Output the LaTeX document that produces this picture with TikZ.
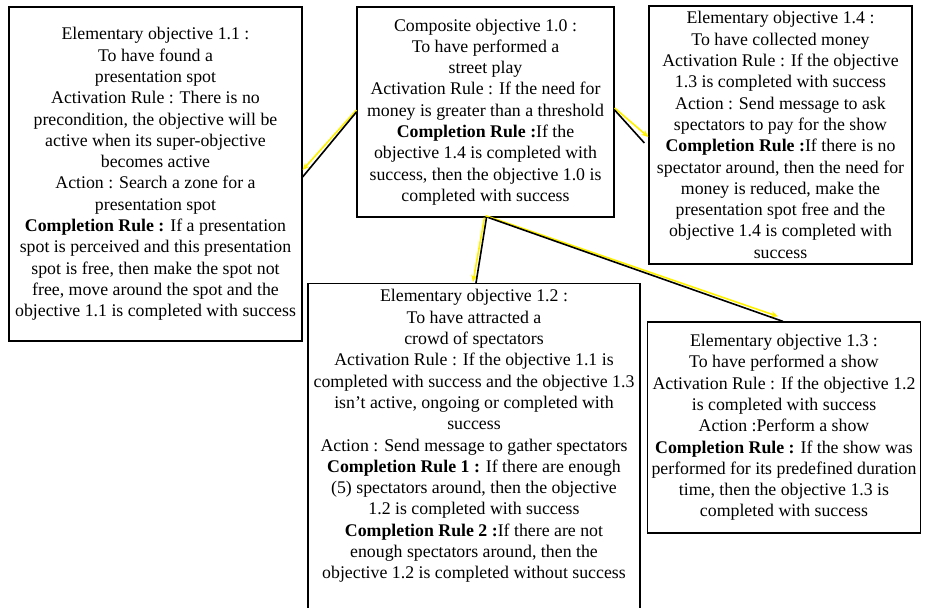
\documentclass[tikz,border=0pt]{standalone}
\usepackage{fontspec}
\setmainfont{Liberation Serif}
\usetikzlibrary{arrows.meta}

\begin{document}
\begin{tikzpicture}[x=1pt, y=-1pt,
  objbox/.style = {draw, line width=1.2pt, align=center, inner sep=4pt,
    font=\fontsize{17.8}{21.3}\selectfont},
  glow/.style = {draw=yellow, line width=1.6pt, -{Stealth[length=7pt,width=6pt]}},
  link/.style = {draw=black, line width=1.6pt}]
\clip (0,0) rectangle (925,607);
\useasboundingbox (0,0) rectangle (925,607);

\node[objbox, minimum width=293pt, minimum height=334pt] (o11) at (155.5,174) {Elementary objective 1.1 :\\ To have found a\\ presentation spot\\ Activation Rule : There is no\\ precondition, the objective will be\\ active when its super-objective\\ becomes active\\ Action : Search a zone for a\\ presentation spot\\ \textbf{Completion Rule :} If a presentation\\ spot is perceived and this presentation\\ spot is free, then make the spot not\\ free, move around the spot and the\\ objective 1.1 is completed with success};
\node[objbox, minimum width=257pt, minimum height=210pt] (o10) at (485.5,112) {Composite objective 1.0 :\\ To have performed a\\ street play\\ Activation Rule : If the need for\\ money is greater than a threshold\\ \textbf{Completion Rule :}If the\\ objective 1.4 is completed with\\ success, then the objective 1.0 is\\ completed with success};
\node[objbox, minimum width=263pt, minimum height=258pt] (o14) at (780.5,135) {Elementary objective 1.4 :\\ To have collected money\\ Activation Rule : If the objective\\ 1.3 is completed with success\\ Action : Send message to ask\\ spectators to pay for the show\\ \textbf{Completion Rule :}If there is no\\ spectator around, then the need for\\ money is reduced, make the\\ presentation spot free and the\\ objective 1.4 is completed with\\ success};
\node[objbox, minimum width=332pt, inner ysep=6pt, anchor=north] (o12) at (474,283) {Elementary objective 1.2 :\\ To have attracted a\\ crowd of spectators\\ Activation Rule : If the objective 1.1 is\\ completed with success and the objective 1.3\\ isn't active, ongoing or completed with\\ success\\ Action : Send message to gather spectators\\ \textbf{Completion Rule 1 :} If there are enough\\ (5) spectators around, then the objective\\ 1.2 is completed with success\\ \textbf{Completion Rule 2 :}If there are not\\ enough spectators around, then the\\ objective 1.2 is completed without success\rule[-50pt]{0pt}{50pt}};
\node[objbox, minimum width=270pt, minimum height=211pt] (o13) at (784,427.5) {Elementary objective 1.3 :\\ To have performed a show\\ Activation Rule : If the objective 1.2\\ is completed with success\\ Action :Perform a show\\ \textbf{Completion Rule :} If the show was\\ performed for its predefined duration\\ time, then the objective 1.3 is\\ completed with success};

% yellow arrows under the black links
\draw[glow] ([yshift=2pt]o10.west) -- ([yshift=4pt]o11.east);
\draw[glow] ([yshift=4pt]o10.east) -- ([yshift=-2pt]o14.west);
\draw[glow] ([xshift=-1pt]o10.south) -- ([xshift=-1pt,yshift=1pt]o12.north);
\draw[glow] ([yshift=2pt]o10.south) -- ([xshift=-6pt,yshift=5pt]o13.north);
\draw[link] (o10.west) -- ([yshift=-3pt]o11.east);
\draw[link] ([yshift=2pt]o10.east) -- ([xshift=-4pt,yshift=-8pt]o14.west);
\draw[link] ([xshift=1pt]o10.south) -- ([xshift=2pt]o12.north);
\draw[link] ([xshift=3pt]o10.south) -- ([xshift=-1pt]o13.north);
\end{tikzpicture}
\end{document}
